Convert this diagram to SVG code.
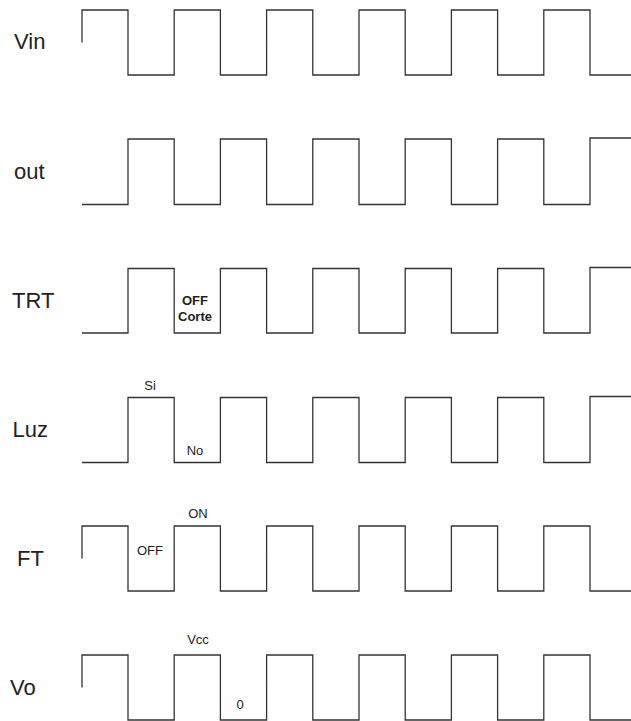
<svg xmlns="http://www.w3.org/2000/svg" width="631" height="721" viewBox="0 0 631 721">
<style>
.sig{fill:none;stroke:#333;stroke-width:1.3}
.lbl{font-family:"Liberation Sans",Arial,sans-serif;font-size:22px;fill:#222}
.note{font-family:"Liberation Sans",Arial,sans-serif;font-size:13px;fill:#222;text-anchor:middle}
.bold{font-weight:bold}
</style>
<rect width="631" height="721" fill="#fff"/>
<g id="connectors">
<path id="w-vin" class="sig" d="M82,42.5 V10 H128 V75 H174.2 V10 H220.4 V75 H266.6 V10 H312.8 V75 H359 V10 H405.2 V75 H451.4 V10 H497.6 V75 H543.8 V10 H590 V75 H631"/>
<path id="w-out" class="sig" d="M82,204.5 H128 V139 H174.2 V204.5 H220.4 V139 H266.6 V204.5 H312.8 V139 H359 V204.5 H405.2 V139 H451.4 V204.5 H497.6 V139 H543.8 V204.5 H590 V138 H631"/>
<path id="w-trt" class="sig" d="M82,333 H128 V268.5 H174.2 V333 H220.4 V268.5 H266.6 V333 H312.8 V268.5 H359 V333 H405.2 V268.5 H451.4 V333 H497.6 V268.5 H543.8 V333 H590 V267.5 H631"/>
<path id="w-luz" class="sig" d="M82,462.5 H128 V397.5 H174.2 V462.5 H220.4 V397.5 H266.6 V462.5 H312.8 V397.5 H359 V462.5 H405.2 V397.5 H451.4 V462.5 H497.6 V397.5 H543.8 V462.5 H590 V396.5 H631"/>
<path id="w-ft" class="sig" d="M82,558.5 V526 H128 V591 H174.2 V526 H220.4 V591 H266.6 V526 H312.8 V591 H359 V526 H405.2 V591 H451.4 V526 H497.6 V591 H543.8 V526 H590 V591 H631"/>
<path id="w-vo" class="sig" d="M82,687.5 V655 H128 V720 H174.2 V655 H220.4 V720 H266.6 V655 H312.8 V720 H359 V655 H405.2 V720 H451.4 V655 H497.6 V720 H543.8 V655 H590 V720 H631"/>
</g>
<g id="vin"><text class="lbl" x="14" y="49">Vin</text></g>
<g id="out"><text class="lbl" x="14" y="179">out</text></g>
<g id="trt"><text class="lbl" x="12" y="308">TRT</text>
<text class="note bold" x="195" y="305">OFF</text>
<text class="note bold" x="195" y="321">Corte</text></g>
<g id="luz"><text class="lbl" x="12.5" y="437">Luz</text>
<text class="note" x="150" y="390">Si</text>
<text class="note" x="195" y="455">No</text></g>
<g id="ft"><text class="lbl" x="17" y="566">FT</text>
<text class="note" x="198" y="518">ON</text>
<text class="note" x="150" y="555">OFF</text></g>
<g id="vo"><text class="lbl" x="10" y="695">Vo</text>
<text class="note" x="198" y="644">Vcc</text>
<text class="note" x="240" y="709">0</text></g>
</svg>
